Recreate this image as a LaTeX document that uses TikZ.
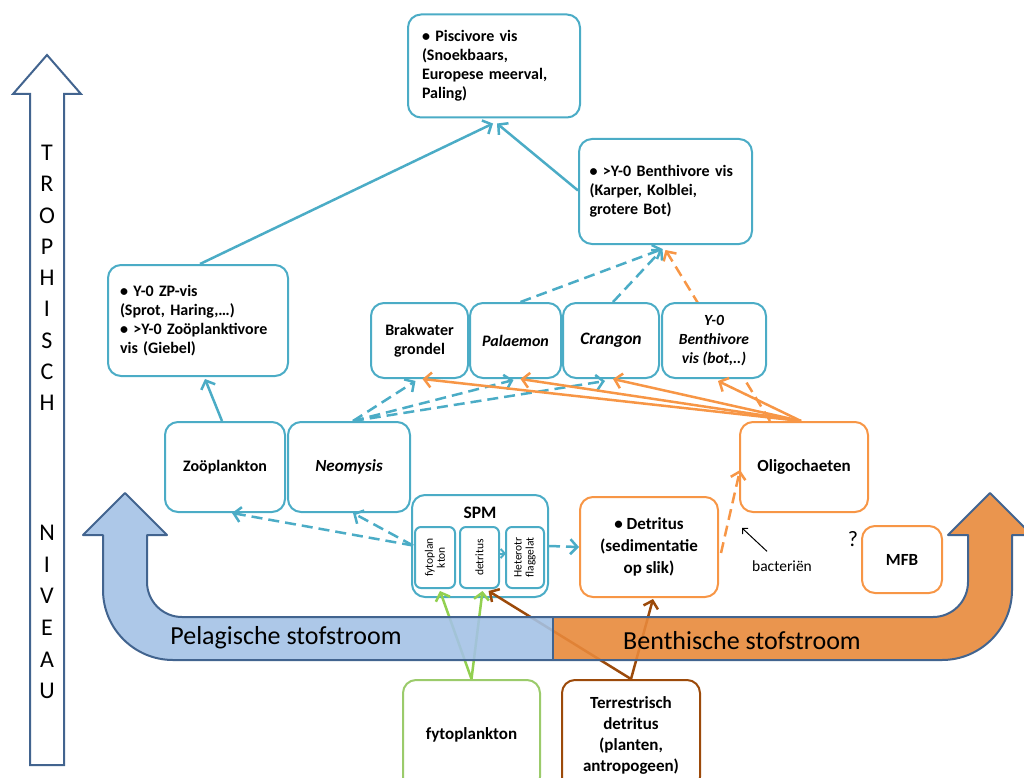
\documentclass[tikz,border=0pt]{standalone}
\usepackage{fontspec}
\setmainfont{Carlito}
\usetikzlibrary{arrows.meta,calc,backgrounds}
\definecolor{boxblue}{HTML}{4BACC6}
\definecolor{boxorange}{HTML}{F79646}
\definecolor{fytogreen}{HTML}{92D050}
\definecolor{boxgreen}{HTML}{9BCB6B}
\definecolor{terrbrown}{HTML}{9C4A0A}
\definecolor{bandblue}{HTML}{A4C2E5}
\definecolor{bandorange}{HTML}{E8893B}
\definecolor{bandline}{HTML}{42648F}
\begin{document}
\begin{tikzpicture}[x=1pt,y=-1pt,
    bluebox/.style={draw=boxblue,line width=2pt,rounded corners=13pt,fill=white,
      align=center,inner sep=2pt,font=\bfseries\fontsize{16}{19}\selectfont},
    orangebox/.style={bluebox,draw=boxorange,font=\bfseries\fontsize{17}{22}\selectfont},
    greenbox/.style={orangebox,draw=boxgreen},
    brownbox/.style={orangebox,draw=terrbrown,font=\bfseries\fontsize{17}{21}\selectfont},
    innerbox/.style={draw=boxblue,line width=2pt,rounded corners=6pt,fill=white,
      rotate=90,minimum width=61pt,align=center,inner sep=1pt,
      font=\fontsize{11.5}{12}\selectfont},
    feed/.style={line width=2.5pt,-{Straight Barb[length=7pt,width=15pt]}},
    dfeed/.style={feed,dash pattern=on 11pt off 6pt},
    letter/.style={font=\fontsize{24}{24}\selectfont,inner sep=0pt},
  ]
  \useasboundingbox (0,0) rectangle (1024,778);

  \draw[bandline,line width=2pt,fill=white] (47,55) -- (81,94) -- (64,94) -- (64,765)
    -- (30,765) -- (30,94) -- (13,94) -- cycle;
  \foreach \l [count=\i] in {T,R,O,P,H,I,S,C,H}
    \node[letter] (troph\i) at (47,{153+31.25*(\i-1)}) {\l};
  \foreach \l [count=\i] in {N,I,V,E,A,U}
    \node[letter] (niv\i) at (47,{533+31.6*(\i-1)}) {\l};

  \node[bluebox,minimum width=172pt,minimum height=103pt,text width=144pt,align=left]
    (pisc) at (494,66) {\textbullet{} Piscivore vis\\(Snoekbaars,\\Europese meerval,\\Paling)};
  \node[bluebox,minimum width=173pt,minimum height=105pt,text width=152pt,align=left]
    (benth) at (665.5,191.5) {\textbullet{} >Y-0 Benthivore vis\\(Karper, Kolblei,\\grotere Bot)};
  \node[bluebox,minimum width=180pt,minimum height=111pt,text width=156pt,align=left]
    (zpvis) at (198,320.5) {\textbullet{} Y-0 ZP-vis\\(Sprot, Haring,…)\\\textbullet{} >Y-0 Zoöplanktivore\\vis (Giebel)};
  \node[bluebox,minimum width=97pt,minimum height=75pt] (brak) at (419.5,340.5) {Brakwater\\grondel};
  \node[bluebox,minimum width=91pt,minimum height=75pt,
    font=\bfseries\itshape\fontsize{16}{19}\selectfont] (pal) at (515.5,340.5) {Palaemon};
  \node[bluebox,minimum width=96pt,minimum height=75pt,
    font=\bfseries\itshape\fontsize{17.5}{20}\selectfont] (cran) at (611,340.5) {Crangon};
  \node[bluebox,minimum width=104pt,minimum height=75pt,
    font=\bfseries\itshape\fontsize{15.5}{19}\selectfont] (yben) at (714,340.5) {Y-0\\Benthivore\\vis (bot,..)};
  \node[bluebox,minimum width=120pt,minimum height=90pt] (zoo) at (225,467) {Zoöplankton};
  \node[bluebox,minimum width=122pt,minimum height=90pt,
    font=\bfseries\itshape\fontsize{17}{20}\selectfont] (neo) at (349,467) {Neomysis};
  \node[bluebox,minimum width=136pt,minimum height=102pt] (spm) at (480,546) {};
  \node[font=\bfseries\fontsize{17.5}{20}\selectfont,inner sep=0pt] (spmlabel) at (480,513) {SPM};
  \node[innerbox,minimum height=40pt] (fyto) at (435,557.5) {fytoplan\\kton};
  \node[innerbox,minimum height=39pt] (detr) at (479.5,557.5) {detritus};
  \node[innerbox,minimum height=38pt] (het) at (525,557.5) {Heterotr\\flaggelat};
  \node[orangebox,minimum width=138pt,minimum height=100pt] (sed) at (649,547)
    {\textbullet{} Detritus\\(sedimentatie\\op slik)};
  \node[orangebox,minimum width=128pt,minimum height=90pt] (olig) at (804,467) {Oligochaeten};
  \node[orangebox,minimum width=80pt,minimum height=67pt] (mfb) at (902,559.5) {MFB};
  \node[greenbox,minimum width=137pt,minimum height=110pt] (fplank) at (471.5,735) {fytoplankton};
  \node[brownbox,minimum width=138pt,minimum height=110pt] (terr) at (631,735)
    {Terrestrisch\\detritus\\(planten,\\antropogeen)};
  \node[font=\fontsize{15.5}{18}\selectfont,inner sep=0pt] (bact) at (782,566) {bacteriën};
  \node[font=\fontsize{22}{22}\selectfont,inner sep=0pt] (quest) at (853,539) {?};
  \coordinate (bacttip) at (742,528);

  \begin{scope}[fytogreen]
    \draw[feed] (fplank.north) -- ($(fyto.west)+(5,2)$);
    \draw[feed] (fplank.north) -- ($(detr.west)+(3,2)$);
  \end{scope}
  \begin{scope}[terrbrown]
    \draw[feed] (terr.north) -- ($(detr.west)+(9,2)$);
    \draw[feed] (terr.north) -- ($(sed.south)+(4,1)$);
  \end{scope}

  \begin{scope}
    \clip (125,493) -- (167,535) -- (147,535) -- (147,582) .. controls (147,601.3) and (162.7,617) .. (182,617)
      -- (933,617) .. controls (952.3,617) and (968,601.3) .. (968,582) -- (968,535) -- (948,535) -- (990,493)
      -- (1032,535) -- (1012,535) -- (1012,590) .. controls (1012,628.6) and (980.6,660) .. (942,660)
      -- (173,660) .. controls (134.4,660) and (103,628.6) .. (103,590) -- (103,535) -- (83,535) -- cycle;
    \fill[bandblue,fill opacity=.9] (0,480) rectangle (553,680);
    \fill[bandorange,fill opacity=.9] (553,480) rectangle (1040,680);
  \end{scope}
  \draw[bandline,line width=2pt,line join=round] (125,493) -- (167,535) -- (147,535) -- (147,582)
    .. controls (147,601.3) and (162.7,617) .. (182,617)
    -- (933,617) .. controls (952.3,617) and (968,601.3) .. (968,582) -- (968,535) -- (948,535) -- (990,493)
    -- (1032,535) -- (1012,535) -- (1012,590) .. controls (1012,628.6) and (980.6,660) .. (942,660)
    -- (173,660) .. controls (134.4,660) and (103,628.6) .. (103,590) -- (103,535) -- (83,535) -- cycle;
  \draw[bandline,line width=2pt] (553,617) -- (553,660);
  \node[font=\fontsize{26}{26}\selectfont,inner sep=0pt] (pel) at (286,638) {Pelagische stofstroom};
  \node[font=\fontsize{26}{26}\selectfont,inner sep=0pt] (ben) at (742,641) {Benthische stofstroom};

  \begin{scope}[boxblue]
    \draw[feed] ($(zpvis.north)+(2,0)$) -- ($(pisc.south)+(-1,5)$);
    \draw[feed] ($(benth.west)+(0,-1)$) -- ($(pisc.south)+(3,5)$);
    \draw[feed] ($(zoo.north)+(-3,0)$) -- ($(zpvis.south)+(7,2)$);
    \draw[dfeed] ($(pal.north)+(5,0)$) -- ($(benth.south)+(-3,4)$);
    \draw[dfeed] ($(cran.north)+(2,0)$) -- ($(benth.south)+(-3,4)$);
    \draw[dfeed] ($(neo.north)+(4,0)$) -- ($(brak.south)+(-4,2)$);
    \draw[dfeed] ($(neo.north)+(4,0)$) -- ($(pal.south)+(-2,1)$);
    \draw[dfeed] ($(neo.north)+(4,0)$) -- ($(cran.south)+(-6,2)$);
    \draw[dfeed] ($(fyto.north)+(-1,-12)$) -- ($(zoo.south)+(7,0)$);
    \draw[dfeed] ($(fyto.north)+(-1,-12)$) -- ($(neo.south)+(4,0)$);
    \draw[dfeed] (spm.east) -- (sed.west);
    \draw[line width=2pt,-{Straight Barb[length=4pt,width=9pt]}] ($(detr.south)+(-2,-4)$) -- ($(het.north)+(1,-4)$);
  \end{scope}
  \begin{scope}[on background layer]
    \draw[boxorange,dfeed] ($(olig.north)+(-34,0)$) -- ($(benth.south)+(0,5)$);
  \end{scope}
  \begin{scope}[boxorange]
    \draw[feed] ($(olig.north)+(-3,0)$) -- ($(brak.south)+(3,0)$);
    \draw[feed] ($(olig.north)+(-3,0)$) -- ($(pal.south)+(5,0)$);
    \draw[feed] ($(olig.north)+(-3,0)$) -- ($(cran.south)+(2,0)$);
    \draw[feed] ($(olig.north)+(-3,0)$) -- ($(yben.south)+(4,2)$);
    \draw[dfeed] ($(sed.east)+(2,6)$) -- ($(olig.west)+(1,3)$);
  \end{scope}
  \draw[line width=1pt,-{Straight Barb[length=4pt,width=8pt]}] ($(bact.north)+(-15,-9)$) -- (bacttip);
\end{tikzpicture}
\end{document}
